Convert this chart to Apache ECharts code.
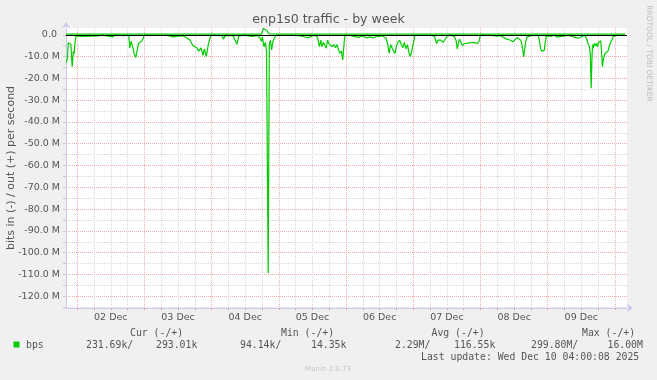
<!DOCTYPE html>
<html>
<head>
<meta charset="utf-8">
<script src="https://cdn.jsdelivr.net/npm/echarts@6/dist/echarts.min.js"></script>
<style>
html,body{margin:0;padding:0;background:#f0f0f0;}
#chart{width:657px;height:380px;}
</style>
</head>
<body>
<div id="chart"></div>
<script>
// time in hours relative to 02 Dec 00:00, values in Mbit/s
const inHours = [-3.9,-3.5,-3.2,-2.6,-2.25,-1.8,-1.4,-1.1,-0.75,-0.45,-0.1,1.7,2.4,7.6,8.5,12.75,13.5,16.3,17.0,18.4,
18.8,19.2,19.5,19.9,20.4,20.9,21.5,21.9,22.4,23.1,23.6,23.9,26.0,31.0,31.3,32.0,34.2,34.9,36.7,
37.75,39.2,40.3,41.3,42.0,42.7,43.4,44.2,44.9,45.4,46.1,46.8,47.4,47.75,49.5,51.7,52.2,52.9,54.5,55.1,55.6,56.3,57.0,57.75,59.9,62.4,63.1,
64.5,65.25,65.8,66.1,66.7,67.2,67.6,67.95,68.2,68.6,69.0,69.4,69.9,70.4,71.1,73.5,76.7,79.9,81.0,81.7,82.4,83.1,83.8,85.2,
85.9,86.5,87.0,87.4,87.9,88.5,88.9,89.4,89.9,90.4,91.1,91.7,92.2,92.75,93.3,93.8,94.35,94.8,95.1,95.4,95.7,
97.4,99.2,99.9,100.6,101.7,102.4,103.5,104.5,105.6,106.7,107.1,107.75,108.8,109.5,
110.25,110.8,111.4,111.9,112.4,112.9,113.5,114.0,114.5,115.1,115.6,116.25,116.8,117.4,117.9,118.5,119.0,119.5,120.0,120.4,120.6,
122.4,124.5,126.7,127.6,128.3,128.8,129.4,129.9,130.6,131.1,131.7,132.25,133.0,
134.6,135.25,135.7,136.1,136.5,137.0,137.6,138.3,138.8,139.4,140.0,140.6,141.2,141.9,142.4,143.0,143.6,143.9,
145.95,147.4,149.9,151.0,152.0,153.3,154.0,154.5,155.1,155.6,156.3,157.0,157.6,158.1,158.6,159.1,159.4,159.8,160.1,160.6,160.95,
162.4,163.8,164.6,165.0,165.4,165.8,166.3,166.75,167.1,167.5,167.9,169.5,170.25,171.3,172.0,174.2,175.25,176.7,177.75,178.3,178.9,179.9,180.6,181.1,
181.8,182.4,182.9,183.2,183.5,183.8,184.0,184.3,184.6,185.0,185.4,185.75,186.1,186.6,186.9,187.2,187.5,187.9,188.4,189.0,189.5,190.1,190.5,190.9,191.4,191.75,193.1,195.6];
const inValues = [-12.8,-11,-3.7,-3.0,-4.5,-14.7,-7.6,-8.8,-3.0,-0.5,-0.1,-0.8,-0.1,-0.5,-0.1,-1.0,-0.1,-0.4,-0.1,-0.2,
-6.0,-3.0,-2.4,-6.0,-9.0,-10.5,-11.0,-4.0,-3.2,-2.8,-1.5,-0.1,-0.2,-0.3,-1.0,-0.2,-1.0,-0.2,-0.5,
-0.5,-1.5,-2.5,-5.0,-4.5,-6.0,-7.5,-6.0,-9.5,-6.5,-10.0,-4.5,-1.5,-0.1,-0.3,-0.4,-2.0,-0.3,-0.4,-1.0,-0.3,-0.5,-4.4,-0.5,-0.2,-0.8,-0.2,
-0.3,-1.5,-3.0,-1.0,-5.5,-3.5,-7.8,-8.0,-109.4,-4.0,-2.5,-7.0,-3.0,-1.5,-0.1,-0.3,-0.2,-0.5,-0.9,-0.3,-1.5,-2.0,-0.4,-0.3,
-1.5,-5.5,-2.5,-5.5,-3.5,-3.0,-6.2,-2.4,-4.2,-3.8,-5.5,-4.5,-6.0,-4.5,-7.0,-8.5,-7.5,-11.6,-7.0,-2.0,-0.1,
-0.3,-0.9,-0.5,-1.2,-0.6,-1.0,-1.4,-1.0,-1.5,-0.8,-1.7,-0.8,-0.5,-0.1,
-1.5,-4.0,-8.5,-4.5,-4.0,-7.5,-8.5,-5.0,-3.5,-2.5,-4.0,-6.0,-3.5,-6.5,-4.5,-8.5,-10.0,-9.5,-4.0,-1.5,-0.1,
-0.3,-0.2,-0.3,-0.8,-4.0,-2.5,-2.0,-2.5,-3.5,-4.2,-1.5,-0.5,-0.1,
-0.8,-2.5,-6.5,-4.0,-2.0,-3.5,-5.0,-4.0,-4.3,-3.8,-4.3,-3.6,-4.0,-3.6,-3.3,-4.0,-2.5,-0.1,
-0.3,-0.2,-0.6,-0.4,-1.0,-2.0,-1.8,-2.4,-1.8,-3.2,-2.3,-1.3,-1.8,-2.2,-3.2,-7.0,-10.1,-9.3,-3.5,-1.0,-0.1,
-0.3,-0.2,-0.3,-2.5,-6.0,-7.5,-8.0,-7.2,-3.5,-0.5,-0.1,-0.6,-0.2,-1.0,-0.3,-0.5,-0.2,-0.8,-1.2,-2.0,-1.6,-1.0,-0.8,-0.3,
-1.5,-4.0,-5.5,-9.0,-24.6,-10.0,-4.5,-6.2,-4.0,-5.0,-4.0,-5.5,-3.5,-4.0,-2.8,-7.0,-14.7,-11.0,-8.7,-8.2,-7.5,-4.7,-4.0,-2.4,-0.8,-0.1,-0.2,-0.2];
const outHours = [-3.9,65.8,66.5,67.1,67.6,68.0,68.5,75.2,75.7,76.3,182.9,183.3,183.8,195.6];
const outValues = [0.3,0.3,2.9,2.6,2.0,1.2,0.4,0.3,0.7,0.3,0.3,1.0,0.3,0.3];

const dayLabels = ['02 Dec','03 Dec','04 Dec','05 Dec','06 Dec','07 Dec','08 Dec','09 Dec'];
const dayLabelHours = [12,36,60,84,108,132,156,180];
const xGridHours = [0,6,12,18,24,30,36,42,48,54,60,66,72,78,84,90,96,102,108,114,120,126,132,138,144,150,156,162,168,174,180,186,192];
const yGridValues = [-125,-120,-115,-110,-105,-100,-95,-90,-85,-80,-75,-70,-65,-60,-55,-50,-45,-40,-35,-30,-25,-20,-15,-10,-5,0];
const yLabelValues = [-120,-110,-100,-90,-80,-70,-60,-50,-40,-30,-20,-10,0];

const legendHeaders = [['Cur (-/+)',130],['Min (-/+)',281],['Avg (-/+)',431.5],['Max (-/+)',582]];
const legendValues = [['231.69k/',86],['293.01k',156],['94.14k/',240],['14.35k',311],['2.29M/',395],['116.55k',454],['299.80M/',531],['16.00M',607.5]];

const MINOR = '#d8d8d8', MAJOR = '#f3aaaa';
const chart = echarts.init(document.getElementById('chart'), null, {renderer:'canvas'});
const mono = '"DejaVu Sans Mono", monospace';
const sans = '"DejaVu Sans", sans-serif';
const graphics = [
  {type:'text', x:328.5, y:20, style:{text:'enp1s0 traffic - by week', font:'12.6px '+sans, fill:'#555', textAlign:'center', textVerticalAlign:'middle'}},
  {type:'text', x:648.5, y:53.5, rotation:-Math.PI/2, style:{text:'RRDTOOL / TOBI OETIKER', font:'7.5px '+sans, fill:'#bdbdbd', textAlign:'center', textVerticalAlign:'middle'}},
  {type:'text', x:11, y:168, rotation:Math.PI/2, style:{text:'bits in (-) / out (+) per second', font:'11px '+sans, fill:'#555', textAlign:'center', textVerticalAlign:'middle'}},
  {type:'rect', shape:{x:13.5, y:341.5, width:6, height:6}, style:{fill:'#00cc00'}},
  {type:'text', x:26, y:345, style:{text:'bps', font:'9.8px '+mono, fill:'#555', textVerticalAlign:'middle'}},
  {type:'text', x:421, y:357, style:{text:'Last update: Wed Dec 10 04:00:08 2025', font:'9.8px '+mono, fill:'#555', textVerticalAlign:'middle'}},
  {type:'text', x:328, y:369, style:{text:'Munin 2.0.73', font:'7px '+sans, fill:'#c4c4c4', textAlign:'center', textVerticalAlign:'middle'}}
];
legendHeaders.forEach(h => graphics.push({type:'text', x:h[1], y:333, style:{text:h[0], font:'9.8px '+mono, fill:'#555', textVerticalAlign:'middle'}}));
legendValues.forEach(h => graphics.push({type:'text', x:h[1], y:345, style:{text:h[0], font:'9.8px '+mono, fill:'#555', textVerticalAlign:'middle'}}));

chart.setOption({
  animation:false,
  backgroundColor:'#f0f0f0',
  grid:{left:66, right:30, top:28, bottom:72, show:true, backgroundColor:'#ffffff', borderWidth:0},
  xAxis:{
    type:'value', min:-4.0, max:196.3,
    axisLine:{onZero:false, lineStyle:{color:'#c8c8f0'}, symbol:['none','arrow'], symbolSize:[6,6], symbolOffset:[0,6]},
    axisTick:{show:true, length:2, lineStyle:{color:'#e0a0a0'}, customValues:xGridHours},
    axisLabel:{customValues:dayLabelHours, margin:5, color:'#555', fontFamily:sans, fontSize:9.5,
      formatter:v => dayLabels[dayLabelHours.indexOf(Math.round(v))] || ''},
    splitLine:{show:true, lineStyle:{color:[MAJOR,MINOR,MINOR,MINOR], type:[1,1], width:1}}
  },
  yAxis:{
    type:'value', min:-125.4, max:3.1,
    axisLine:{show:true, onZero:false, lineStyle:{color:'#c8c8f0'}, symbol:['none','arrow'], symbolSize:[6,6], symbolOffset:[0,6]},
    axisTick:{show:true, length:3, lineStyle:{color:'#c8c8c8'}, customValues:yGridValues},
    axisLabel:{customValues:yLabelValues, margin:6, color:'#555', fontFamily:sans, fontSize:9.5,
      formatter:v => Math.abs(v) < 1e-9 ? '0.0 ' : v.toFixed(1) + ' M'},
    splitLine:{show:true, lineStyle:{color:[MINOR,MAJOR], type:[1,1], width:1}}
  },
  series:[
    {type:'line', name:'out', showSymbol:false, silent:true, z:3,
     lineStyle:{color:'#00cc00', width:1.2},
     data:outHours.map((h,i)=>[h,outValues[i]])},
    {type:'line', name:'in', showSymbol:false, silent:true, z:4,
     lineStyle:{color:'#00cc00', width:1.2},
     data:inHours.map((h,i)=>[h,inValues[i]])},
    {type:'line', name:'zero', silent:true, z:5, data:[],
     markLine:{silent:true, symbol:'none', label:{show:false}, animation:false,
       lineStyle:{color:'#000000', width:1, type:'solid'}, data:[{yAxis:0}]}}
  ],
  graphic:graphics
});
</script>
</body>
</html>
